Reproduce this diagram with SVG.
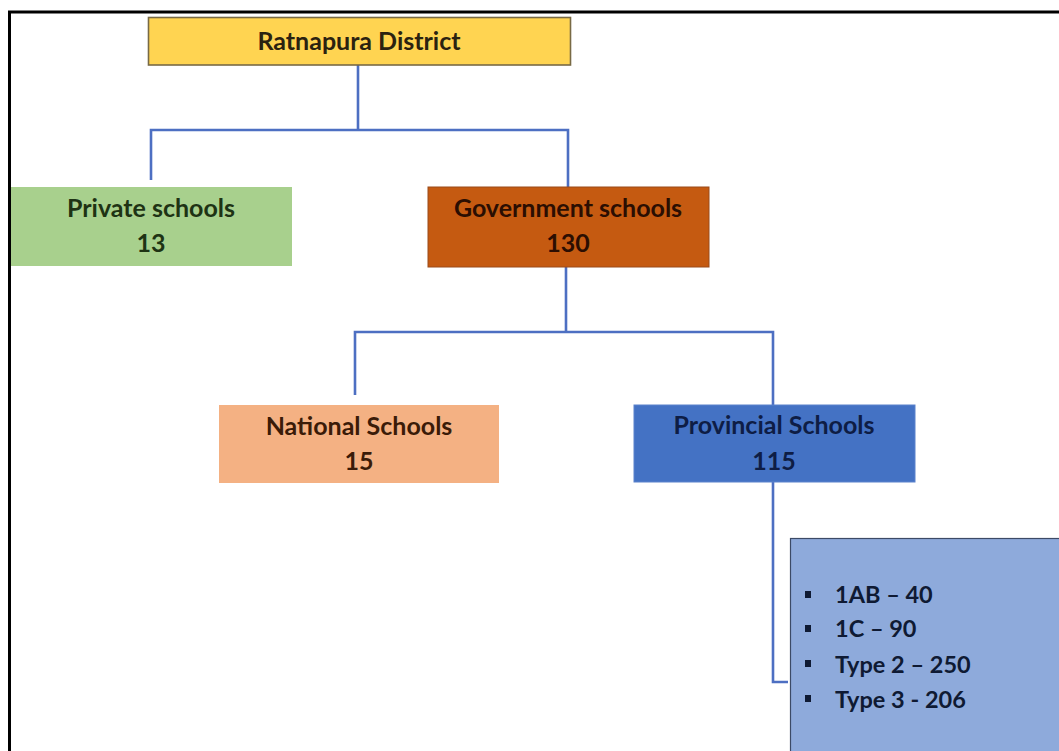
<svg xmlns="http://www.w3.org/2000/svg" width="1059" height="751" viewBox="0 0 1059 751">
<style>
  text { font-family: Lato, "Open Sans", "Liberation Sans", sans-serif; font-weight: 700; font-size: 25px; }
  .c { text-anchor: middle; }
  .b { font-size: 23.5px; }
  .conn { fill: none; stroke: #4d6fc2; stroke-width: 2.6; }
</style>
<rect x="0" y="0" width="1059" height="751" fill="#ffffff"/>
<path d="M9.5 751 V12 H1059" fill="none" stroke="#000" stroke-width="3"/>
<g id="connectors">
  <path class="conn" d="M358 65 V130 M151 180 V130 H568 V187"/>
  <path class="conn" d="M566 267 V332 M355 395 V332 H773 V405"/>
  <path class="conn" d="M773 482 V682 H788"/>
</g>
<g id="ratnapura">
  <rect x="148.5" y="17.5" width="422" height="47.5" fill="#ffd451" stroke="#786a45" stroke-width="1.6"/>
  <text class="c" x="359" y="50" fill="#2b2210">Ratnapura District</text>
</g>
<g id="private">
  <rect x="11" y="187" width="281" height="79" fill="#a8d08d"/>
  <text class="c" x="151" y="217" fill="#1e3314">Private schools</text>
  <text class="c" x="151" y="252" fill="#1e3314">13</text>
</g>
<g id="government">
  <rect x="428" y="187" width="281" height="80" fill="#c55a11" stroke="#9a4a1a" stroke-width="1"/>
  <text class="c" x="568" y="217" fill="#2b0e02">Government schools</text>
  <text class="c" x="568" y="252" fill="#2b0e02">130</text>
</g>
<g id="national">
  <rect x="219" y="405" width="280" height="78" fill="#f4b183"/>
  <text class="c" x="359" y="435" fill="#3a1b08">National Schools</text>
  <text class="c" x="359" y="470" fill="#3a1b08">15</text>
</g>
<g id="provincial">
  <rect x="634" y="405" width="281" height="77" fill="#4472c4" stroke="#5b82cc" stroke-width="1"/>
  <text class="c" x="774" y="434" fill="#0e1d45">Provincial Schools</text>
  <text class="c" x="774" y="470" fill="#0e1d45">115</text>
</g>
<g id="types">
  <rect x="790.5" y="538.5" width="280" height="230" fill="#8eaadb" stroke="#3c4a66" stroke-width="1.2"/>
  <rect x="805" y="591" width="6" height="7" fill="#0f1a33"/>
  <rect x="805" y="625" width="6" height="7" fill="#0f1a33"/>
  <rect x="805" y="660" width="6" height="7" fill="#0f1a33"/>
  <rect x="805" y="695" width="6" height="7" fill="#0f1a33"/>
  <text class="b" x="835" y="603" fill="#0f1a33">1AB – 40</text>
  <text class="b" x="835" y="637" fill="#0f1a33">1C – 90</text>
  <text class="b" x="835" y="673" fill="#0f1a33">Type 2 – 250</text>
  <text class="b" x="835" y="708" fill="#0f1a33">Type 3 - 206</text>
</g>
</svg>
